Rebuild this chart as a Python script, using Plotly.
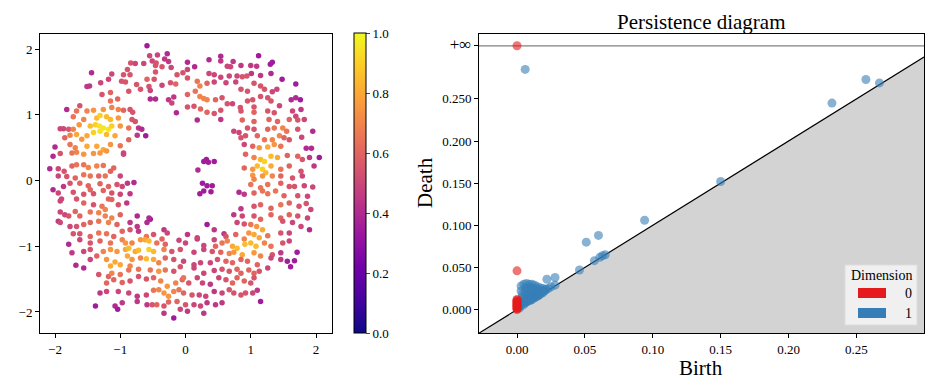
import plotly.graph_objects as go

# ---------------- left panel: point cloud (x, y, colour value) ----------------
ring_top = [
    (-0.59, 2.05, .35), (-0.55, 1.90, .5), (-0.43, 1.91, .5), (-0.28, 1.93, .4), (-0.32, 1.85, .45),
    (-0.26, 1.81, .45), (-0.84, 1.79, .55), (-0.77, 1.78, .5), (-0.64, 1.78, .5), (-0.51, 1.82, .5),
    (-0.45, 1.79, .55), (-0.46, 1.75, .55), (-0.36, 1.73, .55), (-0.89, 1.69, .55), (-0.22, 1.72, .5),
    (0.03, 1.80, .4), (0.14, 1.73, .4), (0.36, 1.84, .4), (0.54, 1.89, .4), (0.54, 1.82, .45),
    (0.73, 1.81, .45), (0.85, 1.75, .45), (0.64, 1.74, .5), (0.69, 1.73, .5), (1.00, 1.75, .45),
    (1.12, 1.90, .35), (1.09, 1.74, .45), (1.30, 1.77, .35), (1.33, 1.80, .35),
    (-1.44, 1.64, .4), (-1.13, 1.62, .5), (-0.95, 1.61, .55), (-0.85, 1.61, .55), (-0.46, 1.65, .55),
    (-0.59, 1.54, .6), (-0.48, 1.54, .55), (-0.13, 1.61, .55), (-0.04, 1.64, .55), (0.03, 1.69, .5),
    (0.36, 1.63, .5), (0.44, 1.61, .5), (0.54, 1.57, .5), (0.67, 1.59, .5), (0.79, 1.59, .5),
    (0.87, 1.58, .55), (0.94, 1.59, .55), (1.01, 1.63, .45), (1.15, 1.60, .45), (1.31, 1.63, .4),
    (-1.51, 1.43, .45), (-1.47, 1.44, .45), (-1.30, 1.49, .5), (-1.18, 1.54, .5), (-0.98, 1.51, .55),
    (-0.92, 1.50, .55), (-0.75, 1.46, .55), (-0.56, 1.43, .55), (-0.54, 1.37, .5), (-0.36, 1.45, .5),
    (-0.23, 1.49, .55), (-0.15, 1.47, .6), (0.03, 1.56, .55), (0.18, 1.51, .65), (0.22, 1.44, .7),
    (0.33, 1.48, .6), (0.44, 1.50, .5), (0.62, 1.49, .5), (0.77, 1.50, .5), (0.85, 1.39, .55),
    (0.95, 1.36, .55), (1.05, 1.48, .55), (1.15, 1.44, .55), (1.21, 1.39, .55), (1.33, 1.35, .5),
    (1.40, 1.39, .5), (1.48, 1.54, .35), (1.69, 1.47, .35),
]
ring_upper = [
    (-1.28, 1.31, .55), (-1.15, 1.34, .6), (-1.15, 1.21, .65), (-1.04, 1.24, .6), (-0.87, 1.36, .55),
    (-0.69, 1.39, .55), (-0.54, 1.24, .4), (-0.46, 1.24, .4), (-0.26, 1.23, .45), (-0.18, 1.27, .45),
    (-0.21, 1.18, .5), (0.03, 1.31, .6), (0.15, 1.36, .65), (0.22, 1.28, .7), (0.28, 1.25, .7),
    (0.33, 1.23, .7), (0.46, 1.23, .6), (0.56, 1.26, .55), (0.64, 1.17, .55), (0.72, 1.17, .5),
    (0.84, 1.11, .55), (0.95, 1.21, .55), (1.03, 1.23, .55), (1.05, 1.12, .55), (1.15, 1.28, .55),
    (1.26, 1.26, .55), (1.31, 1.21, .55), (1.44, 1.14, .5), (1.62, 1.23, .4), (1.69, 1.26, .4),
    (1.76, 1.23, .35), (1.77, 1.08, .45),
    (-1.82, 1.08, .4), (-1.62, 1.14, .55), (-1.67, 1.06, .65), (-1.51, 1.06, .7), (-1.41, 1.07, .75),
    (-1.26, 1.08, .75), (-1.13, 1.11, .7), (-1.03, 1.08, .7), (-0.95, 1.07, .6), (-0.85, 1.08, .55),
    (-0.81, 1.04, .55), (-0.14, 1.03, .4), (0.03, 1.12, .55), (0.13, 1.13, .55), (0.23, 1.09, .6),
    (0.33, 1.04, .6), (0.44, 1.02, .55), (0.54, 1.07, .55), (0.85, 1.06, .55), (1.05, 1.04, .6),
    (1.26, 1.06, .55), (1.36, 1.03, .55), (1.64, 1.06, .5), (1.69, 0.98, .5),
    (-1.72, 0.97, .65), (-1.56, 0.93, .7), (-1.36, 0.95, .85), (-1.31, 0.99, .9), (-1.21, 0.97, .85),
    (-1.15, 0.93, .85), (-1.03, 0.95, .75), (-0.82, 0.93, .55), (-0.77, 0.90, .55), (0.18, 0.92, .4),
    (0.54, 0.93, .45), (0.87, 0.92, .6), (1.05, 0.90, .6), (1.28, 0.93, .6), (1.41, 0.90, .6),
    (1.59, 0.93, .6), (1.72, 0.92, .55), (1.82, 0.93, .5),
    (-1.92, 0.79, .5), (-1.87, 0.79, .5), (-1.79, 0.78, .55), (-1.72, 0.78, .7), (-1.63, 0.85, .75),
    (-1.46, 0.83, .85), (-1.38, 0.85, .9), (-1.32, 0.83, .95), (-1.26, 0.80, .95), (-1.18, 0.78, .95),
    (-1.13, 0.83, .9), (-1.00, 0.83, .75), (-0.87, 0.80, .65), (-0.72, 0.80, .45), (-0.67, 0.78, .4),
    (0.74, 0.75, .5), (0.82, 0.73, .5), (0.95, 0.80, .55), (1.05, 0.78, .55), (1.26, 0.78, .6),
    (1.36, 0.80, .65), (1.49, 0.80, .7), (1.55, 0.75, .65), (1.72, 0.78, .55), (1.95, 0.75, .4),
    (-1.85, 0.65, .6), (-1.77, 0.69, .7), (-1.67, 0.70, .8), (-1.59, 0.63, .75), (-1.51, 0.68, .8),
    (-1.41, 0.73, .9), (-1.31, 0.75, .95), (-1.21, 0.70, .85), (-1.08, 0.68, .8), (-0.87, 0.62, .6),
    (-0.74, 0.69, .45), (-0.61, 0.68, .35), (0.85, 0.65, .55), (0.92, 0.68, .55), (1.10, 0.68, .6),
    (1.21, 0.62, .65), (1.33, 0.62, .7), (1.44, 0.68, .7), (1.51, 0.65, .6), (1.59, 0.62, .55),
    (1.78, 0.66, .5),
]
ring_middle = [
    (-2.00, 0.51, .4), (-1.77, 0.55, .65), (-1.69, 0.50, .7), (-1.51, 0.52, .8), (-1.36, 0.52, .8),
    (-1.26, 0.47, .8), (-1.15, 0.55, .75), (-1.00, 0.53, .65), (-0.95, 0.42, .5), (0.90, 0.55, .5),
    (1.03, 0.52, .6), (1.13, 0.50, .75), (1.26, 0.51, .8), (1.36, 0.55, .75), (1.46, 0.52, .65),
    (1.85, 0.49, .4), (1.93, 0.49, .4),
    (-2.03, 0.37, .4), (-1.92, 0.41, .55), (-1.74, 0.42, .65), (-1.67, 0.43, .7), (-1.56, 0.40, .75),
    (-1.41, 0.41, .75), (-1.31, 0.42, .75), (-1.21, 0.45, .75), (-0.95, 0.40, .5), (0.92, 0.40, .6),
    (1.05, 0.35, .7), (1.15, 0.32, .85), (1.21, 0.29, .9), (1.31, 0.37, .85), (1.41, 0.35, .8),
    (1.56, 0.38, .6), (1.72, 0.37, .6), (1.79, 0.32, .55), (1.90, 0.35, .45), (2.05, 0.35, .35),
    (-2.08, 0.18, .4), (-1.95, 0.18, .5), (-1.86, 0.14, .55), (-1.74, 0.22, .6), (-1.67, 0.24, .65),
    (-1.56, 0.24, .65), (-1.49, 0.20, .7), (-1.36, 0.22, .7), (-1.26, 0.23, .65), (-1.10, 0.19, .6),
    (-1.23, 0.07, .65), (-1.15, 0.14, .6), (-1.00, 0.07, .5), (0.28, 0.29, .35), (0.32, 0.32, .35),
    (0.35, 0.28, .35), (0.44, 0.29, .35), (0.19, 0.16, .4), (0.90, 0.19, .6), (1.03, 0.17, .75),
    (1.10, 0.22, .85), (1.18, 0.17, .9), (1.23, 0.12, .85), (1.31, 0.22, .8), (1.46, 0.17, .65),
    (1.59, 0.22, .6), (1.77, 0.14, .55), (1.79, 0.07, .5), (1.97, 0.22, .45),
    (-1.95, 0.07, .5), (-1.82, 0.06, .55), (-1.69, 0.04, .6), (-1.56, 0.09, .65), (-1.46, 0.07, .65),
    (-1.33, 0.07, .6), (1.03, 0.08, .75), (1.05, 0.02, .7), (1.18, 0.07, .75), (1.33, 0.07, .7),
    (1.46, 0.07, .6), (1.64, 0.04, .55),
    (-1.87, -0.09, .45), (-1.77, -0.04, .55), (-1.62, -0.04, .6), (-1.49, -0.08, .6), (-1.31, -0.05, .6),
    (-1.18, -0.09, .6), (-1.05, -0.06, .55), (-0.97, -0.09, .5), (-0.89, -0.04, .45), (-0.79, -0.03, .4),
    (0.26, -0.04, .35), (0.33, -0.08, .35), (0.41, -0.08, .35), (0.22, -0.20, .35), (0.28, -0.16, .35),
    (0.39, -0.17, .35), (1.00, -0.06, .65), (1.15, -0.11, .65), (1.26, -0.06, .65), (1.46, -0.04, .6),
    (1.59, -0.09, .55), (1.67, -0.09, .55), (1.82, -0.08, .5), (1.95, -0.10, .5),
    (-2.03, -0.14, .4), (-1.95, -0.19, .5), (-1.90, -0.28, .5), (-1.72, -0.18, .55), (-1.56, -0.21, .55),
    (-1.46, -0.14, .6), (-1.41, -0.20, .55), (-1.26, -0.15, .6), (-1.13, -0.19, .55), (-1.00, -0.21, .5),
    (-0.85, -0.20, .45), (0.82, -0.18, .4), (0.90, -0.21, .45), (1.05, -0.19, .6), (1.18, -0.16, .65),
    (1.26, -0.20, .65), (1.38, -0.16, .65), (1.51, -0.23, .6), (1.72, -0.23, .55), (1.87, -0.24, .5),
    (-1.92, -0.31, .5), (-1.67, -0.28, .55), (-1.56, -0.34, .6), (-1.41, -0.37, .55), (-1.28, -0.39, .65),
    (-1.23, -0.44, .7), (-1.18, -0.28, .6), (-1.13, -0.29, .6), (-1.03, -0.37, .55), (-0.90, -0.34, .45),
    (0.85, -0.43, .45), (1.05, -0.39, .55), (1.15, -0.37, .6), (1.31, -0.42, .6), (1.46, -0.37, .65),
    (1.59, -0.34, .6), (1.74, -0.39, .55), (1.85, -0.35, .55), (1.92, -0.44, .5),
]
ring_lower = [
    (-1.92, -0.48, .5), (-1.85, -0.52, .5), (-1.79, -0.54, .55), (-1.69, -0.47, .6), (-1.62, -0.54, .6),
    (-1.46, -0.48, .65), (-1.33, -0.49, .7), (-1.23, -0.54, .7), (-1.13, -0.57, .7), (-1.00, -0.52, .6),
    (-0.74, -0.54, .4), (-0.54, -0.59, .35), (-0.56, -0.57, .4), (0.74, -0.52, .45), (0.87, -0.54, .5),
    (1.05, -0.54, .55), (1.15, -0.59, .6), (1.31, -0.52, .6), (1.46, -0.57, .6), (1.59, -0.52, .6),
    (1.72, -0.54, .55), (1.87, -0.57, .5),
    (-1.95, -0.62, .45), (-1.92, -0.64, .5), (-1.77, -0.70, .5), (-1.67, -0.70, .55), (-1.56, -0.67, .6),
    (-1.46, -0.64, .6), (-1.33, -0.62, .65), (-1.18, -0.64, .7), (-1.05, -0.67, .6), (-0.85, -0.64, .45),
    (-0.74, -0.70, .45), (-0.59, -0.64, .4), (0.33, -0.67, .35), (0.44, -0.75, .45), (0.59, -0.81, .45),
    (0.79, -0.64, .5), (0.90, -0.66, .55), (1.00, -0.67, .65), (1.09, -0.70, .75), (1.18, -0.75, .8),
    (1.49, -0.62, .55), (1.64, -0.64, .5), (1.77, -0.70, .5), (1.90, -0.75, .4),
    (-1.72, -0.81, .55), (-1.62, -0.81, .55), (-1.46, -0.85, .6), (-1.33, -0.80, .65), (-1.21, -0.81, .65),
    (-1.10, -0.85, .6), (-0.97, -0.77, .6), (-0.85, -0.75, .55), (-0.72, -0.77, .45), (-0.60, -0.85, .65),
    (-0.49, -0.82, .55), (-0.33, -0.75, .45), (-0.28, -0.80, .5), (0.03, -0.82, .45), (0.18, -0.89, .45),
    (0.44, -0.90, .5), (0.62, -0.85, .55), (0.77, -0.82, .6), (0.90, -0.89, .7), (0.97, -0.80, .75),
    (1.05, -0.82, .8), (1.13, -0.87, .8), (1.26, -0.84, .65), (1.46, -0.80, .55), (1.59, -0.80, .5),
    (-1.79, -0.97, .4), (-1.62, -0.90, .5), (-1.46, -0.95, .55), (-1.31, -0.92, .6), (-1.15, -0.95, .65),
    (-0.97, -0.90, .7), (-0.92, -0.95, .75), (-0.82, -0.95, .7), (-0.69, -0.90, .75), (-0.62, -0.90, .8),
    (-0.56, -0.92, .85), (-0.44, -0.95, .65), (-0.36, -0.89, .6), (-0.31, -0.97, .6), (-0.10, -0.91, .5),
    (0.00, -0.95, .5), (0.18, -0.87, .5), (0.28, -0.99, .5), (0.46, -1.00, .6), (0.56, -0.95, .65),
    (0.64, -0.92, .7), (0.72, -1.00, .8), (0.79, -1.03, .85), (0.91, -0.97, .85), (1.00, -0.95, .85),
    (1.08, -1.00, .85), (1.21, -0.95, .7), (1.31, -1.00, .65), (1.49, -0.95, .55), (1.59, -0.92, .5),
    (-1.74, -1.10, .45), (-1.56, -1.08, .5), (-1.46, -1.05, .55), (-1.26, -1.08, .7), (-1.15, -1.05, .75),
    (-1.05, -1.08, .75), (-0.92, -1.05, .8), (-0.87, -1.03, .85), (-0.77, -1.08, .8), (-0.72, -1.06, .85),
    (-0.56, -1.05, .9), (-0.49, -1.08, .85), (-0.33, -1.05, .7), (-0.21, -1.08, .55), (-0.08, -1.05, .55),
    (0.13, -1.09, .5), (0.28, -1.05, .5), (0.41, -1.08, .55), (0.54, -1.09, .6), (0.67, -1.11, .7),
    (0.74, -1.09, .75), (0.87, -1.13, .8), (1.05, -1.10, .75), (1.15, -1.15, .7), (1.33, -1.13, .55),
    (1.46, -1.10, .45), (1.71, -1.09, .35),
]
ring_bottom = [
    (-1.68, -1.29, .4), (-1.56, -1.33, .4), (-1.46, -1.20, .5), (-1.36, -1.15, .6), (-1.21, -1.20, .75),
    (-1.15, -1.30, .8), (-1.08, -1.24, .8), (-1.00, -1.28, .8), (-0.89, -1.15, .8), (-0.82, -1.20, .75),
    (-0.69, -1.18, .7), (-0.60, -1.19, .85), (-0.49, -1.20, .8), (-0.41, -1.25, .7), (-0.31, -1.18, .6),
    (-0.18, -1.20, .55), (-0.03, -1.23, .5), (0.13, -1.28, .5), (0.23, -1.25, .5), (0.38, -1.25, .5),
    (0.49, -1.20, .55), (0.62, -1.23, .6), (0.72, -1.25, .6), (0.85, -1.20, .6), (0.95, -1.23, .6),
    (1.10, -1.28, .6), (1.31, -1.18, .5), (1.46, -1.20, .45), (1.56, -1.23, .35), (1.61, -1.31, .35),
    (1.67, -1.22, .35),
    (-1.33, -1.43, .55), (-1.18, -1.46, .6), (-1.13, -1.41, .7), (-1.00, -1.43, .65), (-0.87, -1.36, .65),
    (-0.85, -1.30, .7), (-0.72, -1.35, .65), (-0.54, -1.36, .65), (-0.41, -1.38, .75), (-0.31, -1.36, .65),
    (-0.18, -1.38, .55), (-0.08, -1.31, .55), (0.13, -1.33, .5), (0.28, -1.41, .5), (0.44, -1.37, .5),
    (0.56, -1.35, .55), (0.67, -1.38, .55), (0.79, -1.35, .6), (0.85, -1.41, .6), (0.97, -1.36, .6),
    (1.05, -1.41, .6), (1.13, -1.38, .55), (1.26, -1.33, .5),
    (-1.21, -1.56, .6), (-1.10, -1.51, .6), (-0.97, -1.55, .6), (-0.85, -1.53, .55), (-0.72, -1.46, .55),
    (-0.60, -1.50, .55), (-0.49, -1.48, .6), (-0.38, -1.53, .7), (-0.28, -1.61, .75), (-0.15, -1.56, .7),
    (-0.05, -1.51, .6), (-0.03, -1.48, .65), (0.05, -1.56, .55), (0.18, -1.48, .5), (0.26, -1.56, .5),
    (0.38, -1.58, .45), (0.51, -1.48, .5), (0.62, -1.51, .55), (0.72, -1.56, .6), (0.79, -1.48, .6),
    (0.90, -1.53, .6), (1.00, -1.56, .55), (1.05, -1.48, .55),
    (-1.31, -1.71, .45), (-1.21, -1.69, .5), (-1.03, -1.69, .5), (-0.87, -1.71, .5), (-0.74, -1.76, .45),
    (-0.60, -1.74, .5), (-0.49, -1.67, .65), (-0.41, -1.66, .7), (-0.33, -1.71, .75), (-0.26, -1.76, .75),
    (-0.18, -1.69, .7), (-0.10, -1.66, .65), (-0.03, -1.71, .6), (0.10, -1.74, .55), (0.21, -1.74, .5),
    (0.31, -1.76, .5), (0.44, -1.69, .45), (0.56, -1.71, .5), (0.67, -1.66, .55), (0.74, -1.71, .55),
    (0.85, -1.74, .55), (0.92, -1.71, .55), (1.03, -1.71, .5), (1.10, -1.67, .45),
    (-1.38, -1.91, .35), (-1.08, -1.91, .4), (-1.04, -1.96, .35), (-0.97, -1.86, .45), (-0.74, -1.84, .45),
    (-0.59, -1.89, .45), (-0.51, -1.89, .55), (-0.44, -1.89, .6), (-0.33, -1.91, .55), (-0.26, -1.85, .6),
    (-0.13, -1.84, .6), (0.00, -1.89, .55), (0.13, -1.89, .5), (0.23, -1.91, .5), (0.33, -1.86, .45),
    (0.46, -1.89, .45), (0.56, -1.86, .45), (1.15, -1.84, .35),
    (-0.33, -2.02, .45), (-0.18, -2.09, .35), (0.03, -1.99, .45), (0.28, -2.02, .45), (-0.08, -1.96, .5),
]

left_xticks = [-2, -1, 0, 1, 2]
left_xlabels = ["\u22122", "\u22121", "0", "1", "2"]
cbar_ticks = [0.0, 0.2, 0.4, 0.6, 0.8, 1.0]
cbar_labels = ["0.0", "0.2", "0.4", "0.6", "0.8", "1.0"]

# ---------------- right panel: persistence diagram ----------------
INF = float("inf")
dim1_birth = [0.006, 0.257, 0.267, 0.232, 0.150, 0.094, 0.060, 0.051, 0.057, 0.061, 0.063, 0.065,
              0.046, 0.022, 0.028, 0.028,
              0.003, 0.005, 0.007, 0.009, 0.011, 0.013, 0.015, 0.017, 0.019, 0.021, 0.023, 0.025,
              0.003, 0.004, 0.004, 0.003, 0.002, 0.002, 0.003,
              0.006, 0.006, 0.006, 0.006, 0.006,
              0.008, 0.008, 0.008, 0.008, 0.008,
              0.010, 0.010, 0.010, 0.010, 0.010,
              0.012, 0.012, 0.012, 0.012,
              0.014, 0.014, 0.014, 0.014,
              0.016, 0.016, 0.016,
              0.018, 0.018, 0.020, 0.021, 0.005, 0.004, 0.007, 0.009, 0.011, 0.013, 0.015,
              0.017, 0.019, 0.001, 0.002]
dim1_death = [0.285, 0.273, 0.269, 0.245, 0.152, 0.106, 0.088, 0.080, 0.058, 0.062, 0.064, 0.065,
              0.047, 0.036, 0.038, 0.029,
              0.028, 0.030, 0.031, 0.030, 0.030, 0.029, 0.027, 0.026, 0.025, 0.024, 0.025, 0.027,
              0.022, 0.018, 0.014, 0.010, 0.006, 0.004, 0.005,
              0.025, 0.020, 0.015, 0.010, 0.008,
              0.026, 0.021, 0.016, 0.012, 0.010,
              0.026, 0.022, 0.017, 0.013, 0.011,
              0.025, 0.020, 0.016, 0.014,
              0.024, 0.020, 0.017, 0.015,
              0.023, 0.019, 0.017,
              0.022, 0.020, 0.022, 0.023, 0.006, 0.008, 0.009, 0.011, 0.012, 0.014, 0.016,
              0.018, 0.020, 0.003, 0.002]
dim0_birth = [0.0, 0.0, 0.0, 0.0, 0.0, 0.0, 0.0, 0.0, 0.0, 0.0, 0.0, 0.0, 0.0, 0.0, 0.0]
dim0_death = [INF, 0.046, 0.0, 0.001, 0.002, 0.003, 0.004, 0.005, 0.006, 0.007, 0.008, 0.009,
              0.010, 0.011, 0.012]
INF_LEVEL = 0.313
pd_xticks = [0.0, 0.05, 0.10, 0.15, 0.20, 0.25]
pd_xlabels = ["0.00", "0.05", "0.10", "0.15", "0.20", "0.25"]
pd_yticks = [0.0, 0.05, 0.10, 0.15, 0.20, 0.25, INF_LEVEL]
pd_ylabels = ["0.000", "0.050", "0.100", "0.150", "0.200", "0.250",
              "<span style='font-size:17px'>+\u221e</span>"]
PD_MIN, PD_MAX = -0.028, 0.2998

BLUE = "#377eb8"
RED = "#e41a1c"
FONT = "Liberation Serif"

pts = ring_top + ring_upper + ring_middle + ring_lower + ring_bottom
px = [p[0] for p in pts]
py = [p[1] for p in pts]
pc = [p[2] for p in pts]

W, H = 946, 390
OFF = 8  # page body margin in the browser


def fx(p):
    return (p - OFF) / W


def fy(p):
    return 1 - (p - OFF) / H


fig = go.Figure()

fig.add_trace(go.Scatter(
    x=px, y=py, mode="markers", xaxis="x", yaxis="y", showlegend=False,
    marker=dict(size=5.5, color=pc, colorscale="Plasma", cmin=0, cmax=1, line=dict(width=0),
                colorbar=dict(x=fx(354), xanchor="left", y=fy(333), yanchor="bottom",
                              lenmode="pixels", len=300, thickness=12, thicknessmode="pixels",
                              outlinewidth=1, outlinecolor="black", ticks="outside", ticklen=4,
                              tickvals=cbar_ticks, ticktext=cbar_labels,
                              tickfont=dict(family=FONT, size=13, color="black"), xpad=0, ypad=0)),
))

# gray area under diagonal
fig.add_trace(go.Scatter(
    x=[PD_MIN, PD_MAX, PD_MAX, PD_MIN], y=[PD_MIN, PD_MAX, PD_MIN, PD_MIN],
    mode="lines", fill="toself", fillcolor="#d3d3d3", line=dict(width=0),
    xaxis="x2", yaxis="y2", showlegend=False, hoverinfo="skip"))
fig.add_trace(go.Scatter(
    x=[PD_MIN, PD_MAX], y=[PD_MIN, PD_MAX], mode="lines", line=dict(color="black", width=1.2),
    xaxis="x2", yaxis="y2", showlegend=False, hoverinfo="skip"))
fig.add_trace(go.Scatter(
    x=[PD_MIN, PD_MAX], y=[INF_LEVEL, INF_LEVEL], mode="lines", line=dict(color="#808080", width=1.2),
    xaxis="x2", yaxis="y2", showlegend=False, hoverinfo="skip"))

fig.add_trace(go.Scatter(
    x=dim1_birth, y=dim1_death, mode="markers", xaxis="x2", yaxis="y2", showlegend=False,
    marker=dict(size=9, color=BLUE, opacity=0.6, line=dict(width=0))))
d0y = [INF_LEVEL if d == INF else d for d in dim0_death]
fig.add_trace(go.Scatter(
    x=dim0_birth, y=d0y, mode="markers", xaxis="x2", yaxis="y2", showlegend=False,
    marker=dict(size=9, color=RED, opacity=0.6, line=dict(width=0))))

axis_common = dict(showline=True, mirror=True, linecolor="black", linewidth=1, ticks="outside",
                   ticklen=4, tickcolor="black", showgrid=False, zeroline=False, automargin=False,
                   tickfont=dict(family=FONT, size=13, color="black"))

fig.update_layout(
    width=W, height=H, margin=dict(l=0, r=0, t=0, b=0, autoexpand=False),
    paper_bgcolor="white", plot_bgcolor="white", showlegend=False,
    xaxis=dict(domain=[fx(40), fx(332)], range=[-2.23, 2.245], tickvals=left_xticks,
               ticktext=left_xlabels, anchor="y", **axis_common),
    yaxis=dict(domain=[fy(333), fy(34)], range=[-2.32, 2.23], tickvals=left_xticks,
               ticktext=left_xlabels, anchor="x", **axis_common),
    xaxis2=dict(domain=[fx(479), fx(924)], range=[PD_MIN, PD_MAX], tickvals=pd_xticks,
                ticktext=pd_xlabels, anchor="y2", **axis_common),
    yaxis2=dict(domain=[fy(333), fy(34)], range=[-0.0278, 0.327], tickvals=pd_yticks,
                ticktext=pd_ylabels, anchor="x2", **axis_common),
)

ann = dict(xref="paper", yref="paper", showarrow=False, xanchor="center", yanchor="middle")
# titles
fig.add_annotation(text="Persistence diagram", x=fx(701), y=1.0, xref="paper", yref="paper",
                   showarrow=False, xanchor="center", yanchor="top",
                   font=dict(family=FONT, size=21, color="black"))
fig.add_annotation(text="Birth", x=fx(701), y=fy(368),
                   font=dict(family=FONT, size=21, color="black"), **ann)
fig.add_annotation(text="Death", x=fx(425), y=fy(183), textangle=-90,
                   font=dict(family=FONT, size=21, color="black"), **ann)

# legend box
fig.add_shape(type="rect", xref="paper", yref="paper", x0=fx(845), x1=fx(917),
              y0=fy(325), y1=fy(265), fillcolor="rgba(245,245,245,0.85)",
              line=dict(color="#dddddd", width=1), layer="above")
fig.add_annotation(text="Dimension", x=fx(881), y=fy(275),
                   font=dict(family=FONT, size=14, color="black"), **ann)
for lab, col, yc in [("0", RED, 293), ("1", BLUE, 313)]:
    fig.add_shape(type="rect", xref="paper", yref="paper", x0=fx(858), x1=fx(886),
                  y0=fy(yc + 5), y1=fy(yc - 5), fillcolor=col, line=dict(width=0),
                  layer="above")
    fig.add_annotation(text=lab, x=fx(908), y=fy(yc),
                       font=dict(family=FONT, size=14, color="black"), **ann)

fig.write_html("out.html")
